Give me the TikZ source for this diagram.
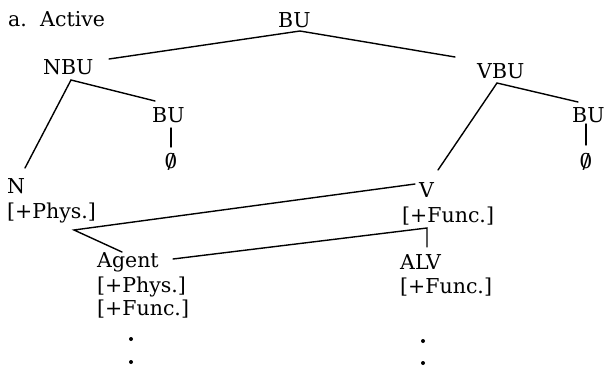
\documentclass[tikz,border=0pt]{standalone}
\usepackage{fontspec}
\setmainfont{DejaVu Serif}
\newcommand{\slz}{\ooalign{0\cr\hidewidth/\hidewidth\cr}}
\tikzset{
  lbl/.style={anchor=base west, inner sep=0pt, font=\fontsize{20.5}{25}\selectfont},
  edge/.style={line width=1.4pt, line cap=round, line join=miter},
  vdot/.style={circle, fill=black, inner sep=0pt, minimum size=4pt}
}
\begin{document}
\begin{tikzpicture}[x=1pt, y=-1pt]
\useasboundingbox (0,0) rectangle (607,367);
% labels
\node[lbl] (title) at (8,26) {a.\hspace{0.65em}Active};
\node[lbl] (bu) at (278,27) {BU};
\node[lbl] (nbu) at (43,74) {NBU};
\node[lbl] (vbu) at (477,78) {VBU};
\node[lbl] (bul) at (152,122) {BU};
\node[lbl] (bur) at (572,122) {BU};
\node[lbl, anchor=base] (phil) at (171,168) {\slz};
\node[lbl, anchor=base] (phir) at (586,168) {\slz};
\node[lbl] (n) at (7,193) {N};
\node[lbl] (nf) at (7,218) {[+Phys.]};
\node[lbl] (v) at (419,197) {V};
\node[lbl] (vf) at (402,222) {[+Func.]};
\node[lbl] (ag) at (97,267) {Agent};
\node[lbl] (agf1) at (97,292) {[+Phys.]};
\node[lbl] (agf2) at (97,315) {[+Func.]};
\node[lbl] (alv) at (400,269) {ALV};
\node[lbl] (alvf) at (400,293) {[+Func.]};
\node[vdot] (d1) at (131,339) {};
\node[vdot] (d2) at (131,362) {};
\node[vdot] (d3) at (423,341) {};
\node[vdot] (d4) at (423,363) {};
% connector points
\coordinate (j0) at (300,31);
\coordinate (e1) at (109,59);
\coordinate (e2) at (455,57);
\coordinate (j1) at (71,80);
\coordinate (e3) at (155,101);
\coordinate (e4) at (25,168);
\coordinate (e5) at (171,128);
\coordinate (e6) at (171,147);
\coordinate (j2) at (497,83);
\coordinate (e7) at (578,102);
\coordinate (e8) at (438,170);
\coordinate (e9) at (586,124);
\coordinate (e10) at (586,145);
\coordinate (j3) at (74,230);
\coordinate (e11) at (415,184);
\coordinate (e12) at (122,252);
\coordinate (e13) at (173,259);
\coordinate (j4) at (427,228);
\coordinate (e14) at (427,247);
% connectors
\draw[edge] (e1) -- (j0) -- (e2);
\draw[edge] (e3) -- (j1) -- (e4);
\draw[edge] (e5) -- (e6);
\draw[edge] (e7) -- (j2) -- (e8);
\draw[edge] (e9) -- (e10);
\draw[edge] (e11) -- (j3) -- (e12);
\draw[edge] (e13) -- (j4) -- (e14);
\end{tikzpicture}
\end{document}
